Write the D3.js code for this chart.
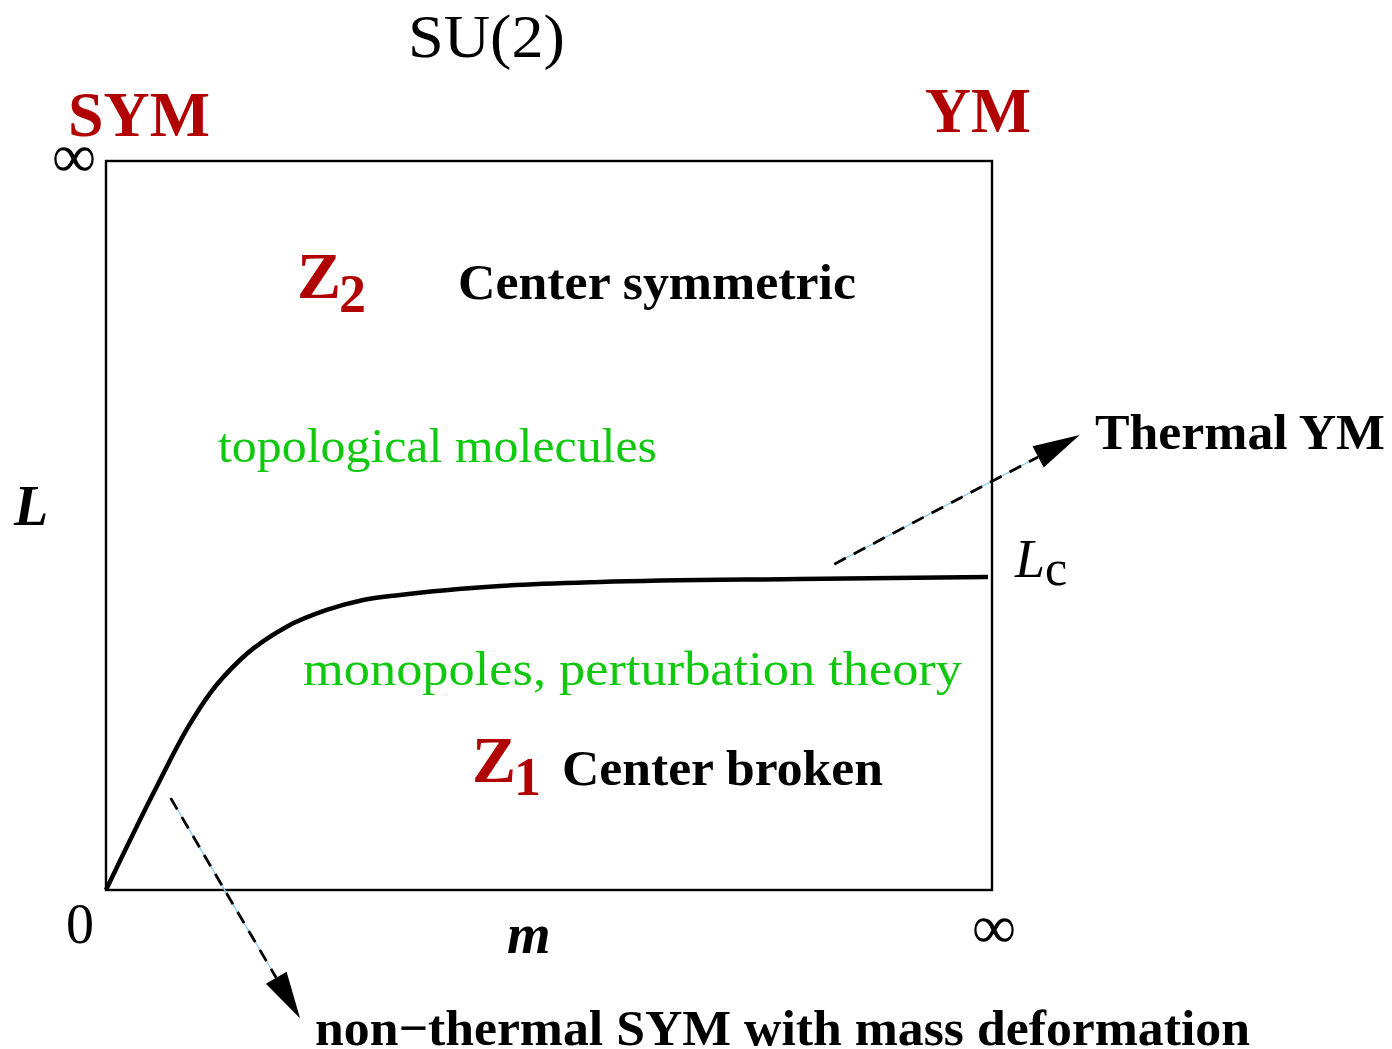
<!DOCTYPE html>
<html>
<head>
<meta charset="utf-8">
<script src="https://cdn.jsdelivr.net/npm/d3@7"></script>
<style>
  html, body { margin: 0; padding: 0; background: #fff; }
  svg { display: block; }
  text { font-family: "Liberation Serif", "Times New Roman", Times, serif; }
</style>
</head>
<body>
<script>
// ---- data (m, L in arbitrary units, 0..100 spans the box) ----
const curveM = [0, 5.34, 9.29, 11.74, 15.12, 20.40, 24.91, 29.04, 33.18, 44.47, 55.76, 78.33, 99.55];
const curveL = [0, 13.26, 22.40, 26.98, 31.55, 36.12, 38.41, 39.78, 40.47, 41.70, 42.25, 42.66, 42.94];
const arrowNames = ["Thermal YM", "non\u2212thermal SYM with mass deformation"];
const arrowFromM = [82.2, 7.3];
const arrowFromL = [44.7, 12.6];
const arrowToM = [109.9, 21.9];
const arrowToL = [62.4, -17.6];
const axisTickLabels = ["0", "\u221E"];

const W = 1392, H = 1049;
const svg = d3.select("body").append("svg").attr("width", W).attr("height", H);

const x = d3.scaleLinear().domain([0, 100]).range([106, 992]);
const y = d3.scaleLinear().domain([0, 100]).range([890, 161]);

const red = "#b00000", green = "#10c810";

// box
svg.append("rect")
  .attr("x", x(0)).attr("y", y(100))
  .attr("width", x(100) - x(0)).attr("height", y(0) - y(100))
  .attr("fill", "none").attr("stroke", "#000").attr("stroke-width", 2.4);

// arrows (light-blue thin line under black dashes)
const arrows = arrowNames.map((n, i) => ({
  x1: x(arrowFromM[i]), y1: y(arrowFromL[i]), x2: x(arrowToM[i]), y2: y(arrowToL[i])
}));
const headLen = 47, headHalf = 12;
arrows.forEach(a => {
  const dx = a.x2 - a.x1, dy = a.y2 - a.y1, len = Math.hypot(dx, dy);
  const ux = dx / len, uy = dy / len;
  const bx = a.x2 - ux * headLen, by = a.y2 - uy * headLen;
  svg.append("line").attr("x1", a.x1).attr("y1", a.y1).attr("x2", bx).attr("y2", by)
    .attr("stroke", "#8ccbf2").attr("stroke-width", 1.3);
  svg.append("line").attr("x1", a.x1).attr("y1", a.y1).attr("x2", bx).attr("y2", by)
    .attr("stroke", "#000").attr("stroke-width", 2.8).attr("stroke-dasharray", "13,9");
  const px = -uy, py = ux;
  svg.append("path")
    .attr("d", `M${a.x2},${a.y2}L${bx + px * headHalf},${by + py * headHalf}L${bx - px * headHalf},${by - py * headHalf}Z`)
    .attr("fill", "#000");
});

// critical curve
const line = d3.line().x(d => x(d[0])).y(d => y(d[1])).curve(d3.curveMonotoneX);
svg.append("path")
  .datum(curveM.map((m, i) => [m, curveL[i]]))
  .attr("d", line)
  .attr("fill", "none").attr("stroke", "#000").attr("stroke-width", 4.5)
  .attr("stroke-linejoin", "round");

// text helper
function t(str, px, py, opts = {}) {
  const el = svg.append("text").attr("x", px).attr("y", py).text(str)
    .attr("font-size", opts.size || 50)
    .attr("fill", opts.fill || "#000");
  if (opts.weight) el.attr("font-weight", opts.weight);
  if (opts.style) el.attr("font-style", opts.style);
  if (opts.anchor) el.attr("text-anchor", opts.anchor);
  if (opts.len) el.attr("textLength", opts.len).attr("lengthAdjust", "spacingAndGlyphs");
  return el;
}

// titles
t("SU(2)", 408, 57, { size: 62, len: 157 });
t("SYM", 68, 136, { size: 64, weight: "bold", fill: red, len: 142 });
t("YM", 925, 132, { size: 64, weight: "bold", fill: red, len: 106 });

// axis labels
t(axisTickLabels[1], 74, 177, { size: 62, anchor: "middle" });
t(axisTickLabels[0], 80, 943, { size: 56, anchor: "middle" });
t(axisTickLabels[1], 994, 948, { size: 62, anchor: "middle" });
t("L", 14, 525, { size: 56, weight: "bold", style: "italic" });
t("m", 507, 953, { size: 56, weight: "bold", style: "italic" });

// region labels
t("Z", 297, 298, { size: 66, weight: "bold", fill: red });
t("2", 339, 312, { size: 54, weight: "bold", fill: red });
t("Center symmetric", 458, 299, { size: 51, weight: "bold", len: 398 });
t("topological molecules", 218, 462, { size: 48, fill: green, len: 439 });
t("monopoles, perturbation theory", 303, 685, { size: 48, fill: green, len: 659 });
t("Z", 472, 782, { size: 66, weight: "bold", fill: red });
t("1", 514, 795, { size: 54, weight: "bold", fill: red });
t("Center broken", 562, 785, { size: 51, weight: "bold", len: 321 });

// L_c
t("L", 1015, 577, { size: 54, style: "italic" });
t("c", 1045, 585, { size: 50 });

// arrow labels
t(arrowNames[0], 1095, 449, { size: 51, weight: "bold", len: 290 });
t(arrowNames[1], 315, 1045, { size: 51, weight: "bold", len: 935 });
</script>
</body>
</html>
